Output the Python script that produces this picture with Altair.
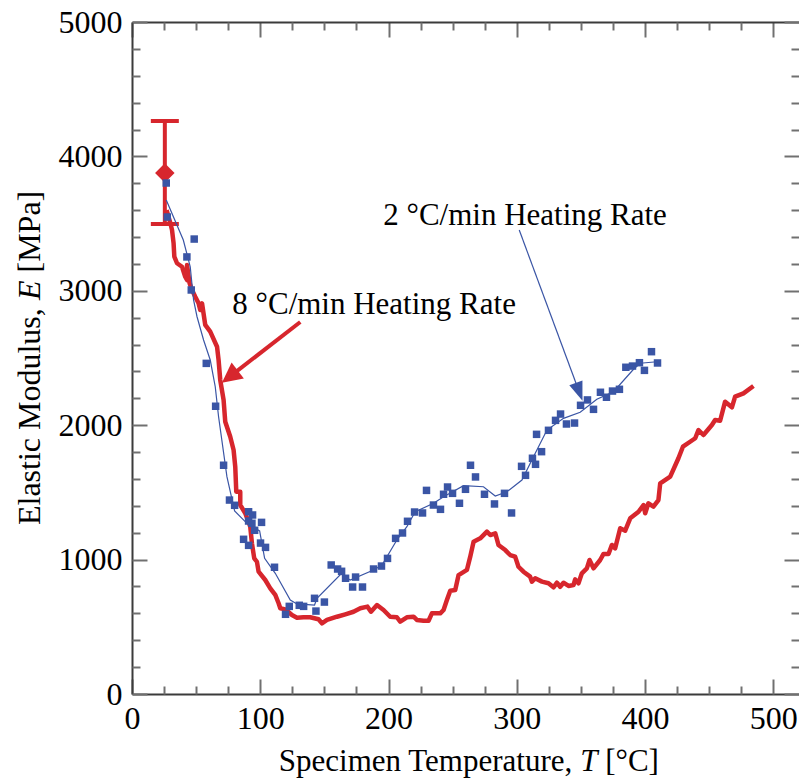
import altair as alt
import numpy as np
import pandas as pd

# ---- 8 °C/min heating rate: continuous modulus trace ----
red_T = [27.0, 29.9, 31.2, 32.4, 33.0, 35.1, 39.0, 41.5, 42.9, 42.9,
         44.9, 46.8, 49.3, 51.9, 53.2, 54.6, 57.1, 61.0, 66.3, 67.5,
         68.8, 71.4, 72.7, 76.6, 79.2, 80.5, 81.3, 84.4, 84.4, 88.3,
         92.2, 93.5, 95.3, 97.4, 98.7, 103.9, 107.8, 111.7, 114.3, 115.6,
         119.5, 124.7, 128.6, 133.7, 139.0, 145.4, 148.1, 152.0, 159.8, 166.3,
         172.7, 178.0, 183.6, 186.3, 191.0, 196.1, 201.3, 206.5, 209.1, 214.3,
         219.5, 222.1, 227.3, 231.2, 233.8, 240.3, 242.9, 245.5, 248.1, 252.0,
         254.6, 261.1, 263.7, 266.3, 271.5, 276.7, 279.3, 283.2, 285.7, 291.0,
         294.8, 298.7, 301.3, 305.2, 310.4, 311.8, 314.3, 319.6, 324.7, 328.6,
         331.3, 333.8, 336.4, 340.3, 344.2, 345.5, 348.1, 350.7, 354.6, 356.7,
         359.8, 365.0, 367.6, 371.5, 374.1, 376.7, 380.6, 384.5, 388.4, 394.9,
         398.8, 400.1, 402.6, 406.5, 410.4, 411.8, 419.6, 426.0, 429.5, 435.1,
         439.1, 441.6, 445.5, 452.1, 454.6, 458.5, 462.4, 467.7, 470.2, 476.7,
         484.5]
red_E = [3600, 3504, 3452, 3356, 3254, 3205, 3179, 3105, 3080, 3192,
         3056, 3006, 2956, 2907, 2857, 2907, 2746, 2696, 2584, 2485,
         2336, 2188, 2026, 1914, 1815, 1691, 1505, 1505, 1406, 1345,
         1245, 1121, 1010, 984, 910, 848, 786, 737, 675, 638,
         630, 588, 568, 571, 571, 556, 526, 551, 575, 593,
         612, 638, 650, 612, 662, 625, 575, 571, 538, 571,
         575, 551, 545, 545, 600, 600, 625, 699, 769, 774,
         885, 923, 1022, 1133, 1158, 1208, 1183, 1196, 1109, 1071,
         1034, 1022, 947, 910, 873, 836, 861, 836, 824, 794,
         828, 798, 828, 804, 811, 853, 824, 898, 935, 997,
         935, 997, 1042, 1042, 1109, 1084, 1233, 1215, 1307, 1356,
         1406, 1345, 1419, 1394, 1443, 1568, 1617, 1754, 1840, 1877,
         1903, 1964, 1927, 2001, 2039, 2033, 2175, 2133, 2212, 2237,
         2292]

# ---- 2 °C/min heating rate: measured points ----
blue_T = [26.7, 27.5, 42.8, 48.5, 46.2, 57.9, 65.2, 71.4, 76.0, 80.0, 90.9,
          94.0, 90.9, 93.5, 101.0, 95.6, 87.0, 90.9, 100.2, 104.1, 111.1,
          122.6, 119.7, 130.4, 133.8, 142.3, 143.4, 150.0, 155.3, 160.3, 163.4,
          166.5, 174.3, 172.0, 179.7, 188.3, 194.5, 199.2, 205.5, 210.9, 214.8,
          220.3, 226.5, 229.6, 235.0, 240.5, 242.9, 246.0, 249.9, 255.3, 260.0,
          263.9, 267.8, 274.8, 282.6, 290.4, 295.9, 303.7, 306.8, 312.2, 314.6,
          319.3, 315.4, 324.7, 330.2, 334.1, 338.7, 345.0, 349.7, 355.1, 359.8,
          365.2, 369.9, 374.6, 380.0, 385.0, 390.2, 395.6, 399.5, 405.0, 409.7]
blue_E = [3802, 3549, 3252, 3385, 3006, 2460, 2141, 1702, 1443, 1404, 1356,
          1332, 1287, 1270, 1277, 1218, 1151, 1106, 1123, 1091, 943,
          652, 593, 660, 652, 712, 617, 684, 960, 930, 913,
          861, 870, 796, 796, 930, 952, 1009, 1158, 1198, 1285,
          1354, 1347, 1515, 1406, 1374, 1486, 1540, 1493, 1419, 1523,
          1702, 1615, 1486, 1414, 1493, 1347, 1694, 1627, 1754, 1709,
          1803, 1932, 1962, 2036, 2083, 2009, 2016, 2148, 2188, 2118,
          2245, 2208, 2254, 2267, 2431, 2440, 2465, 2408, 2547, 2463]

# ---- 2 °C/min heating rate: smoothed curve through the points ----
fit_T = [26.7, 40.0, 45.4, 48.0, 50.7, 55.8, 61.0, 64.9, 67.5, 74.0,
         80.0, 89.6, 99.5, 103.4, 111.7, 123.4, 128.6, 142.3, 144.2, 162.9,
         170.1, 188.3, 194.9, 206.5, 214.3, 220.8, 235.1, 242.9, 258.5, 274.0,
         283.2, 292.3, 304.0, 313.0, 323.5, 336.4, 349.4, 362.4, 375.4, 391.0,
         396.2, 409.2]
fit_E = [3676, 3378, 3179, 2932, 2807, 2634, 2485, 2286, 2063, 1617,
         1362, 1270, 1213, 1010, 898, 699, 670, 662, 712, 893,
         848, 923, 960, 1146, 1245, 1356, 1419, 1468, 1550, 1542,
         1473, 1505, 1592, 1766, 1964, 2051, 2096, 2193, 2249, 2416,
         2461, 2472]

# ---- room-temperature reference value with its scatter band ----
ref_T = [25.6]
ref_E = [3876]
ref_lo = [3497]
ref_hi = [4263]

# ---- callouts: label anchor, arrow tail and arrow tip (data units) ----
note_text = ["8 °C/min Heating Rate", "2 °C/min Heating Rate"]
note_T = [78.2, 195.9]
note_E = [2827, 3490]
arrow_tail = [(131.2, 2768), (301.9, 3452)]
arrow_tip = [(70.1, 2316), (351.2, 2182)]

# ---- layout and style ----
W, H = 667, 672
X_DOMAIN = [0, 520]
Y_DOMAIN = [0, 5000]
FONT = "Liberation Serif"
RED = "#d7262d"
BLUE = "#3a55a5"
INK = "#3b3b3b"
TICK = "#707070"

xs = alt.Scale(domain=X_DOMAIN, nice=False, zero=False)
ys = alt.Scale(domain=Y_DOMAIN, nice=False, zero=False)

x_major = list(range(0, 501, 100))
x_minor = [v for v in range(25, 521, 25) if v % 100]
y_major = list(range(0, 5001, 1000))
y_minor = [v for v in range(200, 5000, 200) if v % 1000]


def inner_ticks(orient, offset, values, size, domain=False):
    """An axis pulled onto the opposite frame edge so its ticks point inward."""
    return alt.Axis(orient=orient, offset=offset, values=values, tickSize=size,
                    tickWidth=2, tickColor=TICK, labels=False, title=None,
                    grid=False, domain=domain, domainColor=INK, domainWidth=2)


x_label_axis = alt.Axis(orient="bottom", values=x_major, format="d", title=None,
                        labelFont=FONT, labelFontSize=32, labelColor="black",
                        labelPadding=9, labelFlush=False, labelOverlap=False,
                        ticks=False, grid=False, domainColor=INK, domainWidth=2)
y_label_axis = alt.Axis(orient="left", values=y_major, format="d", title=None,
                        labelFont=FONT, labelFontSize=32, labelColor="black",
                        labelPadding=10, labelFlush=False, labelOverlap=False,
                        ticks=False, grid=False, domainColor=INK, domainWidth=2)


def X(field, axis=None):
    return alt.X(field, type="quantitative", scale=xs, axis=axis)


def Y(field, axis=None):
    return alt.Y(field, type="quantitative", scale=ys, axis=axis)


red_df = pd.DataFrame({"T": red_T, "E": red_E, "i": range(len(red_T))})
blue_df = pd.DataFrame({"T": blue_T, "E": blue_E})
fit_df = pd.DataFrame({"T": fit_T, "E": fit_E, "i": range(len(fit_T))})
ref_df = pd.DataFrame({"T": ref_T, "E": ref_E, "lo": ref_lo, "hi": ref_hi})

red_line = alt.Chart(red_df).mark_line(
    color=RED, strokeWidth=4.5, strokeJoin="round"
).encode(x=X("T", x_label_axis), y=Y("E", y_label_axis), order=alt.Order("i:Q"))

err_rule = alt.Chart(ref_df).mark_rule(color=RED, strokeWidth=4).encode(
    x=X("T", inner_ticks("top", -H, x_major, 15)),
    y=Y("lo", inner_ticks("right", -W, y_major, 15)),
    y2="hi:Q")

cap_lo = alt.Chart(ref_df).mark_tick(
    color=RED, orient="horizontal", size=28, thickness=4, opacity=1
).encode(x=X("T", inner_ticks("top", -H, x_minor, 8)),
         y=Y("lo", inner_ticks("right", -W, y_minor, 8)))

cap_hi = alt.Chart(ref_df).mark_tick(
    color=RED, orient="horizontal", size=28, thickness=4, opacity=1
).encode(x=X("T", inner_ticks("bottom", -H, x_major, 15, domain=True)),
         y=Y("hi", inner_ticks("left", -W, y_major, 15)))

diamond = alt.Chart(ref_df).mark_point(
    shape="diamond", filled=True, size=380, color=RED, opacity=1
).encode(x=X("T", inner_ticks("bottom", -H, x_minor, 8)),
         y=Y("E", inner_ticks("left", -W, y_minor, 8)))

fit_line = alt.Chart(fit_df).mark_line(color=BLUE, strokeWidth=1.2).encode(
    x=X("T"), y=Y("E"), order=alt.Order("i:Q"))

squares = alt.Chart(blue_df).mark_square(size=56, color=BLUE, opacity=1).encode(
    x=X("T"), y=Y("E"))

px_x = W / (X_DOMAIN[1] - X_DOMAIN[0])
px_y = H / (Y_DOMAIN[1] - Y_DOMAIN[0])


def arrow(tail, tip, color, width, head_len, head_half):
    dx = (tip[0] - tail[0]) * px_x
    dy = -(tip[1] - tail[1]) * px_y
    length = float(np.hypot(dx, dy))
    ux, uy = dx / length, dy / length
    angle = float(np.degrees(np.arctan2(ux, -uy)) % 360)
    # the shaft stops inside the head so the point stays sharp
    back = head_len * 0.6
    end = (tip[0] - ux * back / px_x, tip[1] + uy * back / px_y)
    shaft = alt.Chart(pd.DataFrame({
        "x": [tail[0]], "y": [tail[1]], "x2": [end[0]], "y2": [end[1]]
    })).mark_rule(color=color, strokeWidth=width).encode(
        x=X("x"), y=Y("y"), x2="x2:Q", y2="y2:Q")
    r = head_len / 2.0
    w = head_half / r
    head = alt.Chart(pd.DataFrame({"x": [tip[0]], "y": [tip[1]]})).mark_point(
        shape=f"M0,0L{-w:.3f},2L{w:.3f},2Z", filled=True, size=head_len ** 2,
        angle=angle, color=color, opacity=1, strokeWidth=0
    ).encode(x=X("x"), y=Y("y"))
    return shaft + head


red_arrow = arrow(arrow_tail[0], arrow_tip[0], RED, 4, 20, 10)
blue_arrow = arrow(arrow_tail[1], arrow_tip[1], BLUE, 1.2, 19, 7)

notes = alt.Chart(pd.DataFrame({"T": note_T, "E": note_E, "txt": note_text})).mark_text(
    align="left", baseline="alphabetic", font=FONT, fontSize=31, color="black"
).encode(x=X("T"), y=Y("E"), text="txt:N")


def label(pieces, angle=0, size=31):
    """Axis title assembled from pieces so the symbol can be set in italic."""
    layers = []
    for txt, t, e, align, style in pieces:
        layers.append(
            alt.Chart(pd.DataFrame({"T": [t], "E": [e], "txt": [txt]})).mark_text(
                align=align, baseline="alphabetic", font=FONT, fontSize=size,
                fontStyle=style, color="black", angle=angle
            ).encode(x=X("T"), y=Y("E"), text="txt:N"))
    return alt.layer(*layers)


x_title = label([
    ("Specimen Temperature,", 343.2, -575, "right", "normal"),
    ("T", 349.4, -575, "left", "italic"),
    ("[°C]", 368.9, -575, "left", "normal"),
])
y_title = label([
    ("Elastic Modulus,", -71.5, 1257, "left", "normal"),
    ("E", -71.5, 2932, "left", "italic"),
    ("[MPa]", -71.5, 3136, "left", "normal"),
], angle=270, size=32)

chart = alt.layer(
    red_line, err_rule, cap_lo, cap_hi, diamond, fit_line, squares,
    red_arrow, blue_arrow, notes, x_title, y_title
).resolve_axis(
    x="independent", y="independent"
).properties(
    width=W, height=H,
    autosize=alt.AutoSizeParams(type="none"),
    padding={"left": 132, "top": 22, "right": 0, "bottom": 86},
    background="white",
).configure_view(stroke=None)

chart.save("out.html", embed_options={"renderer": "svg", "actions": False})
